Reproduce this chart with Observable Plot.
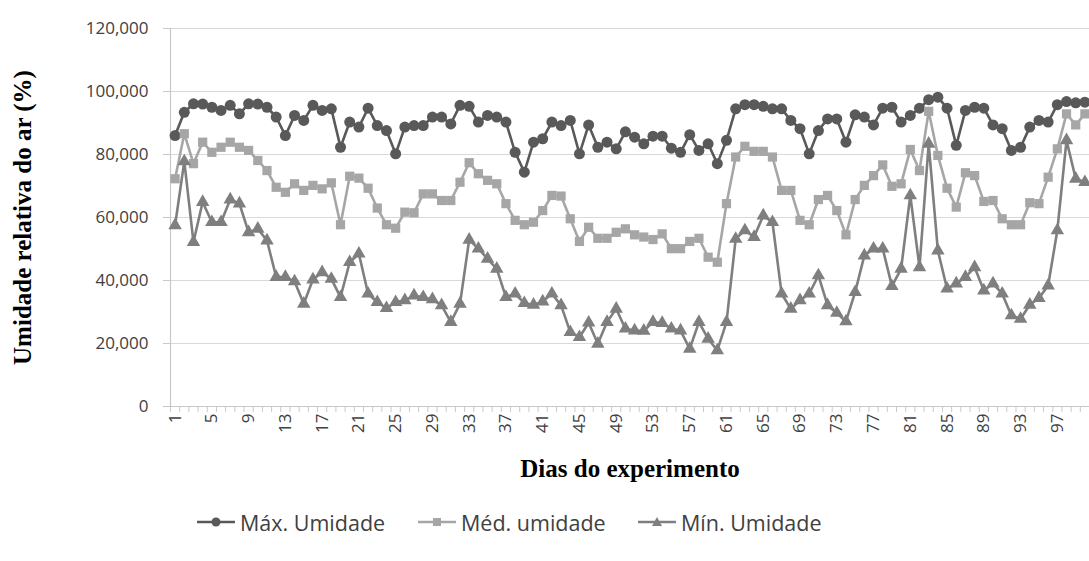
<!DOCTYPE html>
<html>
<head>
<meta charset="utf-8">
<script src="https://cdn.jsdelivr.net/npm/d3@7"></script>
<script src="https://cdn.jsdelivr.net/npm/@observablehq/plot@0.6"></script>
<style>
  html, body { margin: 0; padding: 0; background: #fff; }
  #chart { position: relative; width: 1089px; height: 561px; overflow: hidden; background: #fff; }
  #legend { position: absolute; left: 0; top: 490px; width: 1089px; height: 71px; }
  .item { position: absolute; top: 17px; height: 30px; display: flex; align-items: center;
          font-family: "Open Sans", sans-serif; font-size: 21.5px; color: #404040; white-space: nowrap; }
  .item svg { margin-right: 5px; }
</style>
</head>
<body>
<div id="chart"></div>
<script>
// ---- Data (relative humidity, %) ----
const days = d3.range(1, 101);
const maxUmidade = [
  86.0, 93.4, 96.1, 96.0, 95.0, 94.0, 95.6, 92.9, 96.1, 96.0, 95.0, 91.9, 86.0, 92.4, 90.8, 95.6, 94.0,
  94.5, 82.3, 90.3, 88.7, 94.7, 89.2, 87.6, 80.2, 88.7, 89.2, 89.2, 91.9, 91.9, 89.7, 95.6, 95.3,
  90.3, 92.4, 91.9, 90.3, 80.7, 74.4, 83.9, 85.0, 90.3, 89.2, 90.8, 80.2, 89.4, 82.3, 83.9, 81.8, 87.2,
  85.5, 83.4, 85.8, 85.8, 82.0, 80.7, 86.3, 81.3, 83.4, 77.1, 84.5, 94.5, 95.8, 95.8, 95.3, 94.5, 94.5,
  90.8, 88.2, 80.2, 87.6, 91.3, 91.3, 83.9, 92.6, 91.9, 89.4, 94.7, 95.0, 90.3, 92.4, 94.7, 97.4, 98.2,
  94.7, 82.9, 94.0, 95.0, 94.7, 89.4, 88.2, 81.3, 82.3, 88.7, 90.8, 90.3, 95.8, 96.8, 96.4, 96.6
];
const medUmidade = [
  72.3, 86.6, 77.1, 83.9, 80.7, 82.3, 83.9, 82.3, 81.3, 78.1, 74.9, 69.6, 68.0, 70.7, 68.6, 70.2, 69.1,
  71.0, 57.7, 73.1, 72.5, 69.3, 63.0, 57.7, 56.6, 61.7, 61.5, 67.5, 67.5, 65.4, 65.4, 71.2, 77.4,
  73.9, 71.8, 70.7, 64.4, 59.1, 57.7, 58.5, 62.2, 67.0, 66.8, 59.6, 52.4, 56.9, 53.4, 53.4, 55.3, 56.4,
  54.5, 53.8, 53.0, 54.8, 50.1, 50.1, 52.4, 53.4, 47.4, 45.8, 64.4, 79.2, 82.6, 81.0, 81.0, 79.2, 68.6,
  68.6, 59.1, 57.7, 65.7, 67.0, 62.2, 54.5, 65.7, 70.2, 73.3, 76.7, 69.9, 70.7, 81.6, 74.9, 93.7, 79.7,
  69.3, 63.3, 74.2, 73.3, 65.1, 65.4, 59.6, 57.7, 57.7, 64.7, 64.4, 72.8, 81.8, 92.9, 89.4, 92.9
];
const minUmidade = [
  57.5, 77.8, 52.2, 64.9, 58.5, 58.5, 65.7, 64.4, 55.3, 56.4, 52.7, 41.1, 41.1, 39.7, 32.6, 40.3, 42.6,
  40.5, 34.7, 45.8, 48.5, 35.8, 33.1, 31.2, 33.1, 33.7, 35.2, 34.7, 34.0, 32.1, 26.8, 32.6, 52.9,
  50.1, 46.9, 43.7, 34.7, 35.8, 32.8, 32.3, 33.3, 35.8, 32.1, 23.6, 22.0, 26.6, 19.9, 26.8, 31.0, 24.7,
  24.1, 24.0, 26.8, 26.5, 24.7, 24.1, 18.3, 26.8, 21.5, 17.8, 26.8, 53.2, 55.9, 53.8, 60.6, 58.5, 35.8,
  31.0, 33.7, 35.8, 41.6, 32.1, 29.7, 27.0, 36.3, 47.9, 50.1, 50.1, 38.2, 43.7, 67.0, 44.2, 83.4, 49.5,
  37.4, 39.0, 41.1, 44.2, 36.8, 39.0, 35.8, 28.9, 27.8, 32.3, 34.4, 38.4, 55.9, 84.5, 72.3, 71.2
];
const seriesNames = ["Máx. Umidade", "Méd. umidade", "Mín. Umidade"];
const xTickLabels = d3.range(1, 101, 4);          // 1, 5, 9, ... 97
const yTickValues = [0, 20, 40, 60, 80, 100, 120];
const xTitle = "Dias do experimento";
const yTitle = "Umidade relativa do ar (%)";

// ---- Styling ----
const colors = ["#595959", "#a6a6a6", "#7f7f7f"];
const symbols = ["circle", "square", "triangle"];
const radii = [5.5, 5.2, 5.0];

const seriesData = [maxUmidade, medUmidade, minUmidade].map((vals, s) =>
  days.map((d, i) => ({ day: d, value: vals[i], series: seriesNames[s] }))
);

const fmtY = d => d === 0 ? "0" : d.toFixed(3).replace(".", ",");
const boundaries = d3.range(0.5, 101, 1);

const seriesMarks = seriesData.flatMap((data, s) => [
  Plot.line(data, { x: "day", y: "value", stroke: colors[s], strokeWidth: 2.6 }),
  Plot.dot(data, { x: "day", y: "value", symbol: symbols[s], r: radii[s], fill: colors[s], stroke: "none" })
]);

const plot = Plot.plot({
  width: 1089,
  height: 490,
  marginLeft: 170,
  marginRight: 0,
  marginTop: 28,
  marginBottom: 84,
  x: { type: "linear", domain: [0.5, 100.5], axis: null, label: null },
  y: { domain: [0, 120], axis: null, label: null },
  style: { fontFamily: "'Open Sans', sans-serif", fontSize: "17px", background: "#fff", overflow: "visible" },
  marks: [
    Plot.gridY(yTickValues.filter(d => d > 0), { stroke: "#d9d9d9", strokeOpacity: 1, strokeWidth: 1.2 }),
    Plot.ruleX([0.5], { stroke: "#c8c8c8", strokeWidth: 1.2 }),
    Plot.ruleY([0], { stroke: "#c8c8c8", strokeWidth: 1.2 }),
    Plot.axisY({ ticks: yTickValues, tickSize: 7, tickPadding: 15, tickFormat: fmtY, label: null,
                 stroke: "#c8c8c8", fill: "#404040", fontSize: 17 }),
    Plot.axisX({ ticks: boundaries, tickSize: 6, tickFormat: () => null, label: null, stroke: "#c8c8c8" }),
    Plot.axisX({ ticks: xTickLabels, tickSize: 0, tickPadding: 7, tickRotate: -90, label: null,
                 tickFormat: d => String(d), fill: "#404040", fontSize: 17 }),
    ...seriesMarks,
    Plot.text([xTitle], { text: d => d, frameAnchor: "bottom", dy: 62, lineAnchor: "middle", textAnchor: "middle",
                          fontFamily: "'Liberation Serif', serif", fontWeight: "bold", fontSize: 25, fill: "#000" }),
    Plot.text([yTitle], { text: d => d, frameAnchor: "left", dx: -148, rotate: -90, lineAnchor: "middle", textAnchor: "middle",
                          fontFamily: "'Liberation Serif', serif", fontWeight: "bold", fontSize: 25, fill: "#000" })
  ]
});

const chart = document.getElementById("chart");
chart.appendChild(plot);

// ---- Legend (HTML, below the SVG) ----
const legend = document.createElement("div");
legend.id = "legend";
chart.appendChild(legend);
const legendLefts = [197, 418, 638];
const markerSvg = (s) => {
  const c = colors[s];
  let m;
  if (s === 0) m = `<circle cx="19" cy="10" r="4.5" fill="${c}"/>`;
  else if (s === 1) m = `<rect x="15" y="6" width="8" height="8" fill="${c}"/>`;
  else m = `<path d="M19,5 L24,14 L14,14 Z" fill="${c}"/>`;
  return `<svg width="38" height="20"><line x1="0" y1="10" x2="38" y2="10" stroke="${c}" stroke-width="2.6"/>${m}</svg>`;
};
seriesNames.forEach((name, s) => {
  const it = document.createElement("div");
  it.className = "item";
  it.style.left = legendLefts[s] + "px";
  it.innerHTML = markerSvg(s) + `<span>${name}</span>`;
  legend.appendChild(it);
});
</script>
</body>
</html>
